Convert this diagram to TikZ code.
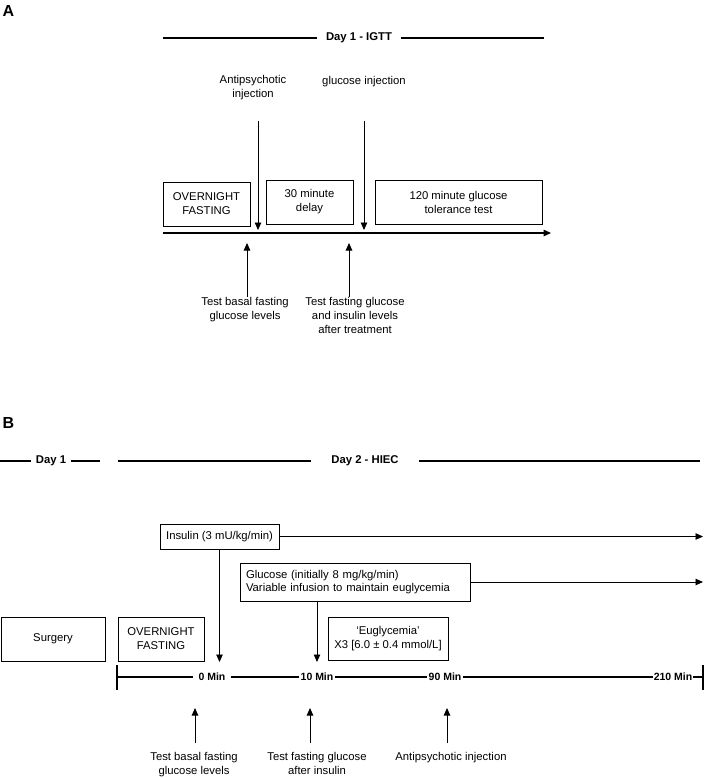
\documentclass[tikz,border=0pt]{standalone}
\usepackage{fontspec}
\setmainfont{Liberation Sans}
\usetikzlibrary{arrows.meta,positioning}

\begin{document}
\begin{tikzpicture}[
  x=1pt, y=-1pt,
  >={Triangle[length=7.5pt,width=6.5pt]},
  txt/.style={font=\fontsize{11.3}{14}\selectfont, align=center, inner sep=2pt},
  stagebox/.style={
    rectangle,
    draw,
    line width=0.9pt,
    align=center,
    inner sep=2pt,
    font=\fontsize{11.3}{14}\selectfont
  },
  panel/.style={font=\fontsize{16}{16}\selectfont\bfseries, inner sep=0pt},
  daytitle/.style={font=\fontsize{11.3}{13}\selectfont\bfseries, inner ysep=2pt},
  minlabel/.style={font=\fontsize{10.5}{12}\selectfont\bfseries, inner ysep=1pt, inner xsep=1pt},
  dayline/.style={line width=1.8pt},
  timeline/.style={line width=2.6pt},
  pointer/.style={->, line width=0.9pt}
]
\useasboundingbox (0,0) rectangle (706,778);

% Panel A
\node[panel] (labA) at (8.5,10.5) {A};
\node[daytitle, inner xsep=9pt] (dayA) at (359,38) {Day 1 - IGTT};
\draw[dayline] (163,38) -- (dayA) -- (544,38);

\node[txt] (antiA) at (253,88) {Antipsychotic\\injection};
\node[txt] (glucA) at (364,82) {glucose injection};

\node[stagebox, minimum width=87pt, minimum height=44pt] (fastA) at (206.5,204) {OVERNIGHT\\FASTING};
\node[stagebox, minimum width=87pt, minimum height=44pt] (delayA) at (309.5,202) {30 minute\\delay};
\node[stagebox, minimum width=167pt, minimum height=44pt] (ogttA) at (458.5,202) {120 minute glucose\\tolerance test};

\coordinate (tlAstart) at (163,233);
\coordinate (tlAend) at (551,233);
\draw[->, line width=1.5pt] (tlAstart) -- (tlAend);

\node[txt, anchor=north] (basalA) at (245,295) {Test basal fasting\\glucose levels};
\node[txt, anchor=north] (treatA) at (355,295) {Test fasting glucose\\and insulin levels\\after treatment};

% Arrows
\coordinate (injA1) at (258,121);
\coordinate (injA2) at (364,121);
\coordinate (upA1) at (247,297);
\coordinate (upA2) at (349,297);
\draw[pointer, shorten >=3pt] (injA1) -- (injA1 |- tlAstart);
\draw[pointer, shorten >=3pt] (injA2) -- (injA2 |- tlAstart);
\draw[pointer, shorten >=10pt] (upA1) -- (upA1 |- tlAstart);
\draw[pointer, shorten >=10pt] (upA2) -- (upA2 |- tlAstart);

% Panel B
\node[panel] (labB) at (8.5,423) {B};
\node[daytitle, inner xsep=5pt] (day1B) at (51,461) {Day 1};
\draw[dayline] (0,461) -- (day1B) -- (100,461);
\node[daytitle, inner xsep=20pt] (day2B) at (365,461) {Day 2 - HIEC};
\draw[dayline] (118,461) -- (day2B) -- (700,461);

\node[stagebox, minimum width=119pt, minimum height=25pt] (insulin) at (219.5,536.5) {Insulin (3 mU/kg/min)};
\node[stagebox, text width=218pt, inner xsep=6pt, minimum height=38pt, align=left, font=\fontsize{11.3}{13}\selectfont] (glucose) at (355,582) {Glucose (initially 8 mg/kg/min)\\Variable infusion to maintain euglycemia};
\node[stagebox, minimum width=104pt, minimum height=44pt] (surgery) at (53,639) {Surgery};
\node[stagebox, minimum width=86pt, minimum height=44pt] (fastB) at (161,639) {OVERNIGHT\\FASTING};
\node[stagebox, minimum width=120pt, minimum height=43pt] (eugly) at (388,638.5) {‘Euglycemia’\\X3 [6.0 ± 0.4 mmol/L]};

\coordinate (tlL) at (117,677);
\coordinate (tlR) at (703,677);
\node[minlabel, inner xsep=5pt] (min0) at (212,677) {0 Min};
\node[minlabel] (min10) at (317,677) {10 Min};
\node[minlabel] (min90) at (445,677) {90 Min};
\node[minlabel] (min210) at (673,677) {210 Min};
\draw[timeline] (tlL) -- (min0) -- (min10) -- (min90) -- (min210) -- (tlR);
\draw[timeline] (117,665) -- (117,690);
\draw[timeline] (703,665) -- (703,690);

\node[txt, anchor=north] (basalB) at (194,750) {Test basal fasting\\glucose levels};
\node[txt, anchor=north] (afterB) at (317,750) {Test fasting glucose\\after insulin};
\node[txt, anchor=north] (antiB) at (451,750) {Antipsychotic injection};

% Arrows
\draw[pointer] (insulin.east) -- (insulin.east -| tlR);
\draw[pointer] (glucose.east) -- (glucose.east -| tlR);
\draw[pointer, shorten >=15pt] (insulin.south) -- (insulin.south |- tlL);
\draw[pointer, shorten >=15pt] (glucose.south -| min10) -- (min10.center);
\coordinate (upB1) at (195,743);
\coordinate (upB2) at (310,743);
\coordinate (upB3) at (447,743);
\draw[pointer, shorten >=31pt] (upB1) -- (upB1 |- tlL);
\draw[pointer, shorten >=31pt] (upB2) -- (upB2 |- tlL);
\draw[pointer, shorten >=31pt] (upB3) -- (upB3 |- tlL);

\end{tikzpicture}
\end{document}
